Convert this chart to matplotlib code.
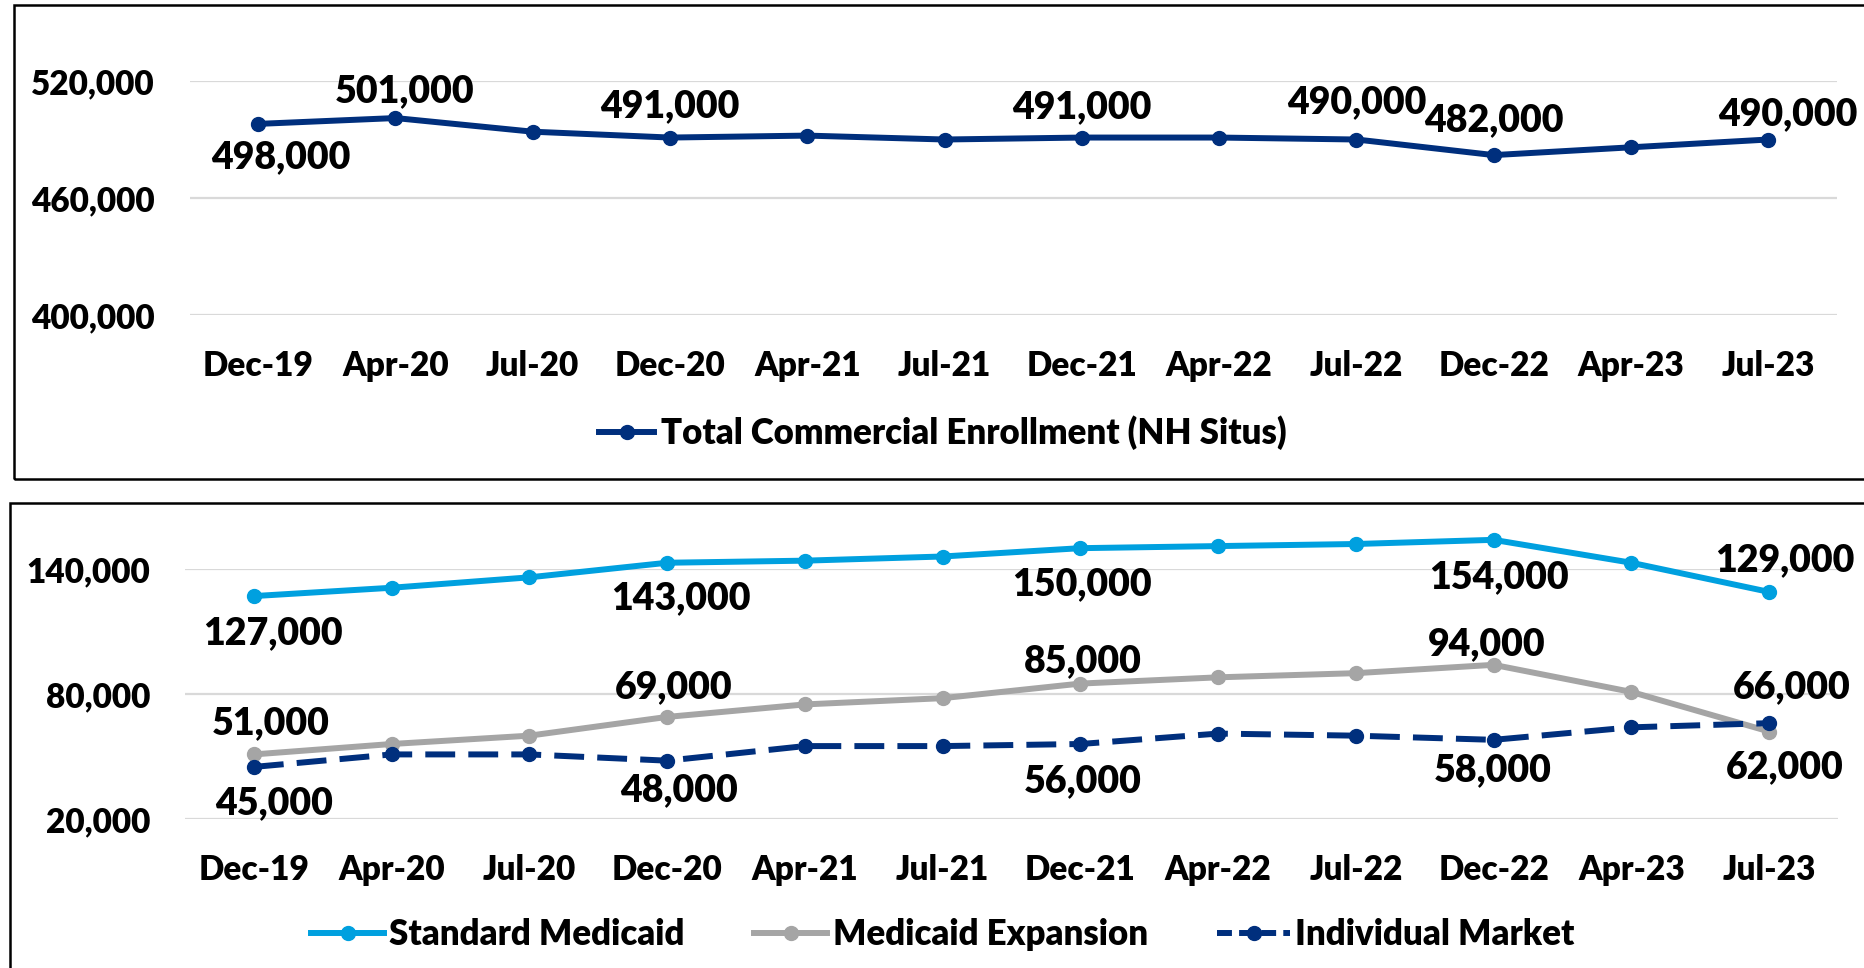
import matplotlib
matplotlib.use("Agg")
import matplotlib.pyplot as plt
from matplotlib.patches import Rectangle
import numpy as np

plt.rcParams["font.family"] = ["Lato", "DejaVu Sans"]
plt.rcParams["font.weight"] = "heavy"

months = ["Dec-19", "Apr-20", "Jul-20", "Dec-20", "Apr-21", "Jul-21",
          "Dec-21", "Apr-22", "Jul-22", "Dec-22", "Apr-23", "Jul-23"]
total_commercial = [498000, 501000, 494000, 491000, 492000, 490000,
                    491000, 491000, 490000, 482000, 486000, 490000]
standard_medicaid = [127000, 131000, 136000, 143000, 144000, 146000,
                     150000, 151000, 152000, 154000, 143000, 129000]
medicaid_expansion = [51000, 56000, 60000, 69000, 75000, 78000,
                      85000, 88000, 90000, 94000, 81000, 62000]
individual_market = [45000, 51000, 51000, 48000, 55000, 55000,
                     56000, 61000, 60000, 58000, 64000, 66000]

NAVY, LIGHT, GRAY, GRID = "#002F7D", "#00A0DF", "#A5A5A5", "#D9D9D9"
PX = 0.72  # pixels -> points at dpi 100

# label placement: (index, dx px, dy px)
top_labels = [(0, 23, 33), (1, 9, -27), (3, 0, -31), (6, 0, -30), (8, 0, -37), (9, 0, -35), (11, 19, -25)]
sm_labels = [(0, 19, 37), (3, 14, 35), (6, 2, 36), (9, 5, 37), (11, 16, -32)]
me_labels = [(0, 17, -31), (3, 7, -30), (6, 2, -22), (9, -7, -21), (11, 16, 36)]
im_labels = [(0, 20, 36), (3, 12, 29), (6, 2, 37), (9, -1, 30), (11, 23, -36)]

fig = plt.figure(figsize=(18.64, 9.68), dpi=100)
fig.add_artist(Rectangle((14 / 1864, 1 - 479 / 968), 1.0, 474 / 968, transform=fig.transFigure,
                         fill=False, lw=1.8, ec="black"))
fig.add_artist(Rectangle((10 / 1864, -0.05), 1.0, 0.05 + 1 - 503 / 968, transform=fig.transFigure,
                         fill=False, lw=1.8, ec="black"))

ax1 = fig.add_axes([189.5 / 1864, 1 - 315 / 968, 1647.5 / 1864, 234 / 968])
ax2 = fig.add_axes([185 / 1864, 1 - 819 / 968, 1653 / 1864, 250 / 968])
x = np.arange(len(months))


def style_axes(ax, lo, hi, ticks):
    ax.set_xlim(-0.5, len(months) - 0.5)
    ax.set_ylim(lo, hi)
    ax.set_yticks(ticks)
    ax.set_yticklabels([f"{t:,}" for t in ticks])
    ax.set_xticks(x)
    ax.set_xticklabels(months)
    ax.tick_params(axis="y", length=0, pad=25, labelsize=24)
    ax.tick_params(axis="x", length=0, pad=25, labelsize=24)
    for s in ax.spines.values():
        s.set_visible(False)
    ax.grid(axis="y", color=GRID, lw=1.6)
    ax.set_axisbelow(True)
    ax.patch.set_alpha(0)


def add_labels(ax, values, spec):
    for i, dx, dy in spec:
        ax.annotate(f"{values[i]:,}", (x[i], values[i]), xytext=(dx * PX, -dy * PX),
                    textcoords="offset points", ha="center", va="center",
                    fontsize=27, annotation_clip=False)


style_axes(ax1, 400000, 520000, [400000, 460000, 520000])
ax1.plot(x, total_commercial, color=NAVY, lw=4.3, marker="o", ms=10, clip_on=False,
         label="Total Commercial Enrollment (NH Situs)")
add_labels(ax1, total_commercial, top_labels)
fig.legend(*ax1.get_legend_handles_labels(), loc="center", bbox_to_anchor=(943 / 1864, 1 - 432.5 / 968),
           frameon=False, fontsize=25, handlelength=1.6, handletextpad=0.2)

style_axes(ax2, 20000, 140000, [20000, 80000, 140000])
ax2.plot(x, standard_medicaid, color=LIGHT, lw=4.3, marker="o", ms=10, clip_on=False,
         label="Standard Medicaid")
ax2.plot(x, medicaid_expansion, color=GRAY, lw=4.3, marker="o", ms=10, clip_on=False,
         label="Medicaid Expansion")
ax2.plot(x, individual_market, color=NAVY, lw=4.3, marker="o", ms=10, clip_on=False,
         dashes=(5, 2.2), label="Individual Market")
add_labels(ax2, standard_medicaid, sm_labels)
add_labels(ax2, medicaid_expansion, me_labels)
add_labels(ax2, individual_market, im_labels)
leg = fig.legend(*ax2.get_legend_handles_labels(), loc="center", bbox_to_anchor=(943 / 1864, 1 - 934.5 / 968),
                 frameon=False, fontsize=25, ncol=3, handlelength=2.1, handletextpad=0.15, columnspacing=2.0)
leg.get_lines()[2].set_dashes((2.5, 1.2))

fig.savefig("out.png", dpi=100)
